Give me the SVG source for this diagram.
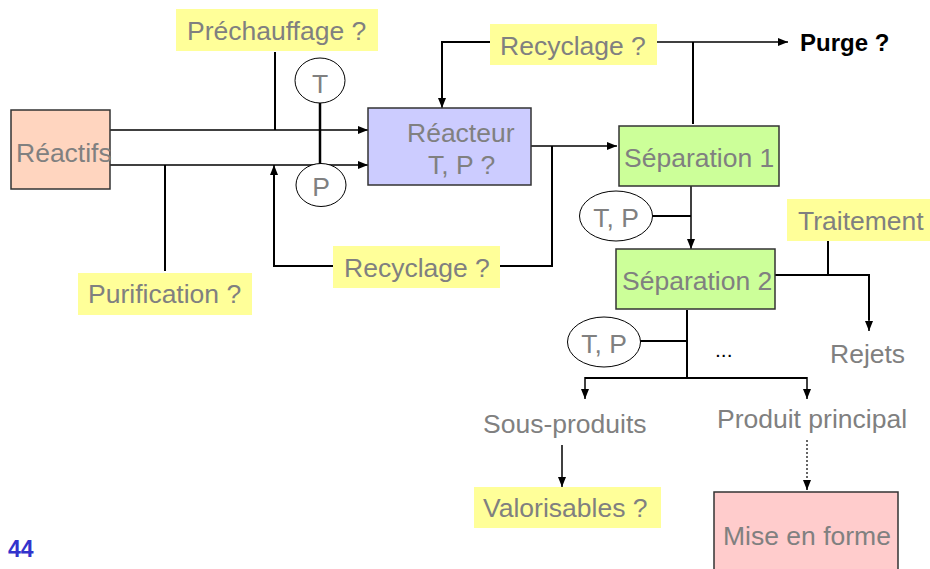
<svg xmlns="http://www.w3.org/2000/svg" width="930" height="569" viewBox="0 0 930 569">
<defs>
<marker id="arr" viewBox="0 0 10 8" markerUnits="userSpaceOnUse" markerWidth="10" markerHeight="8" refX="10" refY="4" orient="auto">
<path d="M0,0 L10,4 L0,8 z" fill="#000"/>
</marker>
<style>
.lbl{font-family:"Liberation Sans",Arial,sans-serif;font-size:26.5px;fill:#808080;}
.yel{fill:#FFFF99;stroke:none;}
.box{stroke:#333;stroke-width:1.5;}
.ell{fill:#fff;stroke:#000;stroke-width:1;}
.ln{fill:none;stroke:#000;stroke-width:2;}
.ar{fill:none;stroke:#000;stroke-width:1.5;marker-end:url(#arr);}
</style>
</defs>
<rect width="930" height="569" fill="#fff"/>

<g id="connectors">
<path class="ar" d="M110,130 H368"/>
<path class="ar" d="M110,165 H368"/>
<path class="ln" d="M275,52 V130"/>
<path d="M320,103 V164" fill="none" stroke="#000" stroke-width="2.5"/>
<path class="ln" d="M165,165 V271"/>
<path class="ln" d="M333,266 H274 V175"/>
<path class="ar" d="M274,200 V165"/>
<path class="ln" d="M500,266 H552 V146"/>
<path class="ar" d="M531,146 H617"/>
<path class="ln" d="M490,42 H442 V100"/>
<path class="ar" d="M442,90 V108"/>
<path class="ar" d="M657,42 H788"/>
<path class="ln" d="M693,42 V124"/>
<path class="ar" d="M691,186 V249"/>
<path class="ln" d="M652,216 H691"/>
<path class="ln" d="M828,241 V275"/>
<path class="ln" d="M775,275 H869 V320"/>
<path class="ar" d="M869,310 V331"/>
<path class="ln" d="M687,310 V378"/>
<path class="ln" d="M640,341 H687"/>
<path class="ln" d="M585,378 H807"/>
<path class="ar" d="M585,377 V399"/>
<path class="ar" d="M807,377 V399"/>
<path class="ar" d="M562,445 V487"/>
<path d="M807,440 V482" fill="none" stroke="#333" stroke-width="1.5" stroke-dasharray="2,2"/>
<path class="ar" d="M807,482 V490"/>
</g>

<g id="reactifs">
<rect class="box" x="11" y="110" width="99" height="79" fill="#FFD5BF"/>
<text class="lbl" x="16" y="162">Réactifs</text>
</g>

<g id="prechauffage">
<rect class="yel" x="176" y="9" width="202" height="42"/>
<text class="lbl" x="187" y="40">Préchauffage ?</text>
</g>

<g id="T">
<ellipse class="ell" cx="320" cy="80.5" rx="25" ry="22.5"/>
<text class="lbl" x="320" y="93" text-anchor="middle">T</text>
</g>

<g id="P">
<ellipse class="ell" cx="321" cy="185" rx="25" ry="21.5"/>
<text class="lbl" x="321" y="196" text-anchor="middle">P</text>
</g>

<g id="purification">
<rect class="yel" x="78" y="273" width="174" height="42"/>
<text class="lbl" x="88" y="303">Purification ?</text>
</g>

<g id="recyclage-bas">
<rect class="yel" x="333" y="246" width="167" height="42"/>
<text class="lbl" x="344" y="277">Recyclage ?</text>
</g>

<g id="reacteur">
<rect class="box" x="368" y="108" width="163" height="77" fill="#CCCCFF"/>
<text class="lbl" x="407" y="142">Réacteur</text>
<text class="lbl" x="428" y="174">T, P ?</text>
</g>

<g id="recyclage-haut">
<rect class="yel" x="490" y="24" width="167" height="41"/>
<text class="lbl" x="500" y="55">Recyclage ?</text>
</g>

<g id="purge">
<text x="800" y="51" font-family="'Liberation Sans',Arial,sans-serif" font-size="24" font-weight="bold" fill="#000">Purge ?</text>
</g>

<g id="separation1">
<rect class="box" x="619" y="126" width="160" height="60" fill="#CCFF99"/>
<text class="lbl" x="624" y="167">Séparation 1</text>
</g>

<g id="tp1">
<ellipse class="ell" cx="616" cy="216" rx="36.5" ry="25"/>
<text class="lbl" x="616" y="227" text-anchor="middle">T, P</text>
</g>

<g id="separation2">
<rect class="box" x="616" y="249" width="159" height="60" fill="#CCFF99"/>
<text class="lbl" x="622" y="290">Séparation 2</text>
</g>

<g id="traitement">
<rect class="yel" x="787" y="199" width="143" height="42"/>
<text class="lbl" x="798" y="230">Traitement</text>
</g>

<g id="rejets">
<text class="lbl" x="830" y="363">Rejets</text>
</g>

<g id="tp2">
<ellipse class="ell" cx="604" cy="342" rx="36.5" ry="25"/>
<text class="lbl" x="604" y="353" text-anchor="middle">T, P</text>
</g>

<g id="etc">
<text x="715" y="357" font-family="'Liberation Sans',Arial,sans-serif" font-size="21" fill="#000">...</text>
</g>

<g id="sous-produits">
<text class="lbl" x="483" y="433">Sous-produits</text>
</g>

<g id="valorisables">
<rect class="yel" x="474" y="487" width="187" height="41"/>
<text class="lbl" x="483" y="517">Valorisables ?</text>
</g>

<g id="produit-principal">
<text class="lbl" x="717" y="428">Produit principal</text>
</g>

<g id="mise-en-forme">
<rect class="box" x="714" y="492" width="184" height="85" fill="#FFCCCC"/>
<text class="lbl" x="723" y="545">Mise en forme</text>
</g>

<g id="page">
<text x="8" y="557" font-family="'Liberation Sans',Arial,sans-serif" font-size="23" font-weight="bold" fill="#3333CC">44</text>
</g>
</svg>
